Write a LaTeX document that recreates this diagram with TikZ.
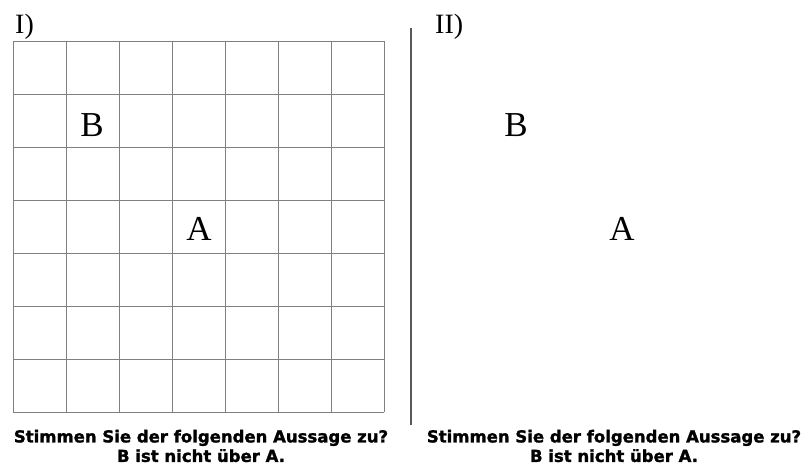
\documentclass[tikz,border=0pt]{standalone}
\usepackage{fontspec}
\setmainfont{Liberation Serif}
\newfontfamily\boldsans[FakeBold=1.5]{DejaVu Sans Bold}
\begin{document}
\begin{tikzpicture}[x=1pt,y=-1pt,
  gridline/.style={draw=black!50,line width=0.9pt},
  letter/.style={inner sep=0pt,font=\fontsize{35}{35}\selectfont},
  label/.style={inner sep=0pt,font=\fontsize{28}{28}\selectfont},
  question/.style={inner sep=0pt,align=center,font=\boldsans\fontsize{16.5}{19.5}\selectfont}]
\useasboundingbox (0,0) rectangle (804,466);
\foreach \i in {0,...,7}{
  \draw[gridline] (13+53*\i,41) -- (13+53*\i,412);
  \draw[gridline] (13,41+53*\i) -- (384,41+53*\i);
}
\coordinate (septop) at (411,28);
\coordinate (sepbot) at (411,425);
\draw[draw=black!65,line width=1.5pt] (septop) -- (sepbot);
\node[label,anchor=base west] (l1) at (15,33) {I)};
\node[label,anchor=base west] (l2) at (435,33) {II)};
\node[letter,anchor=base] (b1) at (92,136) {B};
\node[letter,anchor=base] (a1) at (199,240) {A};
\node[letter,anchor=base] (b2) at (516,136) {B};
\node[letter,anchor=base] (a2) at (622,240) {A};
\node[question] (q1) at (201,446) {Stimmen Sie der folgenden Aussage zu?\\B ist nicht über A.};
\node[question] (q2) at (614,446) {Stimmen Sie der folgenden Aussage zu?\\B ist nicht über A.};
\end{tikzpicture}
\end{document}
